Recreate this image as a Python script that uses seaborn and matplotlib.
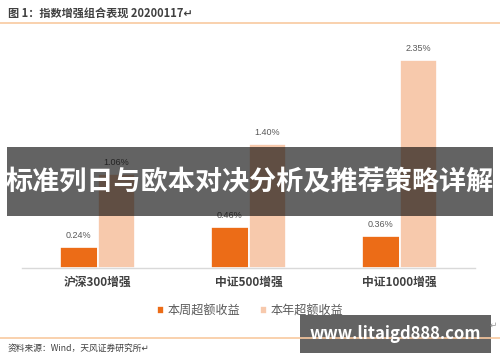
import numpy as np
import matplotlib.pyplot as plt
import pandas as pd
import seaborn as sns
from matplotlib.patches import Rectangle

# data
groups = ['沪深300增强', '中证500增强', '中证1000增强']
series = ['本周超额收益', '本年超额收益']
week_excess = [0.24, 0.46, 0.36]
year_excess = [1.06, 1.40, 2.35]

colors = ['#ec6c17', '#f7c9ac']
grey = '#404040'

df = pd.DataFrame({
    'group': groups * 2,
    'series': [series[0]] * 3 + [series[1]] * 3,
    'value': week_excess + year_excess,
})

sns.set_style('white')
plt.rcParams['font.family'] = ['Noto Sans CJK SC', 'DejaVu Sans']

fig = plt.figure(figsize=(5, 3.62), dpi=100)
ax = fig.add_axes([0.044, 0.2597, 0.906, 0.636])

sns.barplot(data=df, x='group', y='value', hue='series', palette=colors,
            width=0.5, edgecolor='white', linewidth=1.2, saturation=1, ax=ax)

for cont in ax.containers:
    ax.bar_label(cont, fmt='%.2f%%', padding=5, fontsize=6.5, color='#595959',
                 family=['Liberation Sans', 'DejaVu Sans'])

ax.set_xlim(-0.5, 2.5)
ax.set_ylim(0, 2.6)
ax.set_xlabel('')
ax.set_ylabel('')
ax.set_yticks([])
for s in ['top', 'right', 'left']:
    ax.spines[s].set_visible(False)
ax.spines['bottom'].set_color('#d9d9d9')
ax.spines['bottom'].set_linewidth(1.0)
ax.set_xticks(range(3))
ax.set_xticklabels(groups, fontsize=8.5, color=grey, fontweight='bold')
ax.tick_params(axis='x', which='major', length=0, pad=6)
ax.set_xticks([-0.5, 0.5, 1.5, 2.5], minor=True)
ax.tick_params(axis='x', which='minor', length=3, color='#d9d9d9', width=1.0)

sns.move_legend(ax, 'center', bbox_to_anchor=(0.5, 1 - 311 / 362),
                bbox_transform=fig.transFigure, ncol=2, frameon=False, title=None,
                fontsize=8.7, handlelength=0.6, handleheight=0.6,
                columnspacing=1.6, handletextpad=0.3)
for t in ax.get_legend().get_texts():
    t.set_color('#595959')

# header and footer
fig.text(8 / 500, 1 - 14 / 362, '图 1：指数增强组合表现 20200117↵', fontsize=8,
         color=grey, fontweight='bold', va='center', ha='left')
fig.add_artist(plt.Line2D([0, 1], [1 - 23 / 362] * 2, color='#f8c9a0', lw=1.2))
fig.add_artist(plt.Line2D([0, 1], [1 - 338 / 362] * 2, color='#f8c9a0', lw=1.2))
fig.text(8 / 500, 1 - 348 / 362, '资料来源：Wind，天风证券研究所↵', fontsize=6.3,
         color=grey, va='center', ha='left')
fig.text(493 / 500, 1 - 325 / 362, '↵', fontsize=6.3, color='#999999',
         va='center', ha='center')

# overlays on the picture
fig.add_artist(Rectangle((7 / 500, 1 - 216 / 362), 486 / 500, 69 / 362,
                         transform=fig.transFigure, color='black', alpha=0.61, lw=0))
fig.text(0.5, 1 - 181 / 362, '标准列日与欧本对决分析及推荐策略详解', fontsize=19.5,
         color='white', fontweight='bold', ha='center', va='center')
fig.add_artist(Rectangle((300 / 500, 1 - 353 / 362), 191 / 500, 38 / 362,
                         transform=fig.transFigure, color='black', alpha=0.61, lw=0))
fig.text(395.5 / 500, 1 - 334 / 362, 'www.litaigd888.com', fontsize=12,
         color='white', fontweight='bold', ha='center', va='center')

fig.savefig('out.png', dpi=100)
